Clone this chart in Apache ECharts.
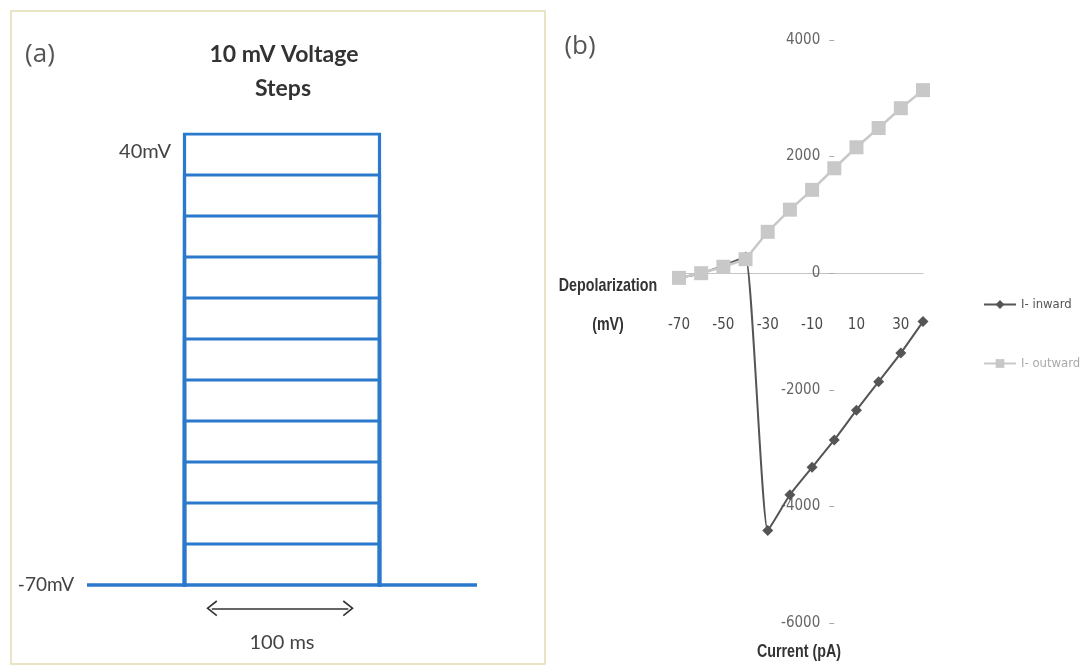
<!DOCTYPE html>
<html>
<head>
<meta charset="utf-8">
<script src="https://cdn.jsdelivr.net/npm/echarts/dist/echarts.min.js"></script>
<style>
html,body{margin:0;padding:0;background:#fff;}
#chart{width:1089px;height:666px;}
</style>
</head>
<body>
<div id="chart"></div>
<script>
// ---- Panel (a): voltage-step protocol ----
const stepLevels = [40, 30, 20, 10, 0, -10, -20, -30, -40, -50, -60]; // mV
const holdingPotential = -70;      // mV
const pulseWindow = [0, 100];      // ms
const traceWindow = [-50, 150];    // ms
const pulseLabel = '100 ms';

// ---- Panel (b): I-V relationship ----
const voltages = [-70, -60, -50, -40, -30, -20, -10, 0, 10, 20, 30, 40];          // mV
const iInward  = [-80, 0, 130, 280, -4415, -3800, -3330, -2860, -2350, -1860, -1370, -830]; // pA
const iOutward = [-80, 0, 110, 240, 710, 1090, 1430, 1800, 2160, 2490, 2830, 3140];         // pA
const xTickLabels = [-70, -50, -30, -10, 10, 30];
const yTickValues = [-6000, -4000, -2000, 0, 2000, 4000];

const BLUE = '#2a79cc';
const COND = "'DejaVu Sans Condensed','Liberation Sans',sans-serif";
const SANS = "'Liberation Sans',Arial,sans-serif";
const HUMAN = "Lato,'Open Sans',sans-serif";

// geometry of panel (b) plot area
const GB = { left: 679, right: 166, top: 40, bottom: 43 };
const plotW = 1089 - GB.left - GB.right;
const plotH = 666 - GB.top - GB.bottom;
const xMinB = -70, xMaxB = 40, yMinB = -6000, yMaxB = 4000;
const yAxisOffset = -plotW * (0 - xMinB) / (xMaxB - xMinB);   // axis crosses at x = 0
const xAxisOffset = -plotH * (0 - yMinB) / (yMaxB - yMinB);   // axis crosses at y = 0

const stepSeries = stepLevels.map((v) => ({
  type: 'line', xAxisIndex: 0, yAxisIndex: 0, silent: true,
  symbol: 'none', animation: false,
  lineStyle: { color: BLUE, width: 3.2, join: 'miter', cap: 'square' },
  data: [[pulseWindow[0], holdingPotential], [pulseWindow[0], v], [pulseWindow[1], v], [pulseWindow[1], holdingPotential]]
}));

const chevron = 'path://M0,10 L8,0 L16,10 L14.6,11 L8,2.6 L1.4,11 Z';

const baselineSeries = {
  type: 'line', xAxisIndex: 0, yAxisIndex: 0, silent: true,
  symbol: 'none', animation: false,
  lineStyle: { color: BLUE, width: 3.5 },
  data: [[traceWindow[0], holdingPotential], [traceWindow[1], holdingPotential]],
  markLine: {
    silent: true, animation: false,
    symbol: [chevron, chevron], symbolSize: [16, 11],
    lineStyle: { color: '#333', width: 1.5, type: 'solid' },
    label: { show: false },
    data: [[
      { coord: [pulseWindow[0] + 14, holdingPotential - 5.7] },
      { coord: [pulseWindow[1] - 16, holdingPotential - 5.7] }
    ]]
  }
};

function txt(x, y, text, font, fill, extra) {
  return Object.assign({ type: 'text', silent: true, x: x, y: y,
    style: { text: text, font: font, fill: fill, align: 'center', verticalAlign: 'middle' } }, extra || {});
}

const option = {
  backgroundColor: '#ffffff',
  animation: false,
  grid: [
    { left: 87, right: 612, top: 134, bottom: 40, outerBoundsMode: 'none', containLabel: false },
    { left: GB.left, right: GB.right, top: GB.top, bottom: GB.bottom, outerBoundsMode: 'none', containLabel: false }
  ],
  xAxis: [
    { gridIndex: 0, type: 'value', min: traceWindow[0], max: traceWindow[1], show: false },
    {
      gridIndex: 1, type: 'value', min: xMinB, max: xMaxB, interval: 10,
      position: 'bottom', offset: xAxisOffset,
      axisLine: { onZero: false, lineStyle: { color: '#c4c4c4', width: 1 } },
      axisTick: { show: false },
      splitLine: { show: false },
      axisLabel: {
        margin: 44, color: '#4a4a4a', fontSize: 15, fontFamily: COND,
        formatter: v => xTickLabels.includes(v) ? String(v) : ''
      }
    }
  ],
  yAxis: [
    { gridIndex: 0, type: 'value', min: -80, max: 40, show: false },
    {
      gridIndex: 1, type: 'value', min: yMinB, max: yMaxB, interval: 2000,
      position: 'left', offset: yAxisOffset,
      axisLine: { show: false, onZero: false },
      axisTick: { show: true, length: 5, lineStyle: { color: '#aaa' } },
      splitLine: { show: false },
      axisLabel: {
        margin: 14, color: '#666', fontSize: 15, fontFamily: COND,
        formatter: v => yTickValues.includes(v) ? String(v) : ''
      }
    }
  ],
  legend: {
    orient: 'vertical', left: 978, top: 293, itemGap: 46,
    itemWidth: 32, itemHeight: 11,
    textStyle: { fontSize: 13, fontFamily: COND },
    data: [
      { name: 'I- inward', textStyle: { color: '#555' } },
      { name: 'I- outward', textStyle: { color: '#aaa' } }
    ]
  },
  graphic: [
    { type: 'rect', silent: true, shape: { x: 11, y: 11, width: 534, height: 653 },
      style: { fill: 'none', stroke: '#e4dbb4', lineWidth: 1.5 } },
    txt(40, 55, '(a)', "26px 'Open Sans',sans-serif", '#555'),
    txt(284, 55, '10 mV Voltage', 'bold 23px ' + HUMAN, '#333'),
    txt(283, 89, 'Steps', 'bold 23px ' + HUMAN, '#333'),
    txt(145, 152, Math.max(...stepLevels) + 'mV', '20px ' + HUMAN, '#444'),
    txt(46, 585, holdingPotential + 'mV', '19px ' + HUMAN, '#444'),
    txt(282, 643, pulseLabel, '20px ' + HUMAN, '#444'),
    txt(580, 47, '(b)', "26px 'Open Sans',sans-serif", '#555'),
    txt(608, 286, 'Depolarization', 'bold 17px ' + SANS, '#333', { scaleX: 0.84, scaleY: 1.12 }),
    txt(608, 325, '(mV)', 'bold 17px ' + SANS, '#333', { scaleX: 0.84, scaleY: 1.12 }),
    txt(799, 652, 'Current (pA)', 'bold 17px ' + SANS, '#333', { scaleX: 0.84, scaleY: 1.12 })
  ],
  series: [
    ...stepSeries,
    baselineSeries,
    {
      name: 'I- inward', type: 'line', xAxisIndex: 1, yAxisIndex: 1,
      data: voltages.map((v, i) => [v, iInward[i]]),
      symbol: 'diamond', symbolSize: 11, smooth: 0.15,
      itemStyle: { color: '#555' },
      lineStyle: { color: '#555', width: 2 },
      z: 2
    },
    {
      name: 'I- outward', type: 'line', xAxisIndex: 1, yAxisIndex: 1,
      data: voltages.map((v, i) => [v, iOutward[i]]),
      symbol: 'rect', symbolSize: 14,
      itemStyle: { color: '#c8c8c8' },
      lineStyle: { color: '#c8c8c8', width: 2.5 },
      z: 3
    }
  ]
};

const chart = echarts.init(document.getElementById('chart'), null, { renderer: 'canvas' });
chart.setOption(option);
</script>
</body>
</html>
